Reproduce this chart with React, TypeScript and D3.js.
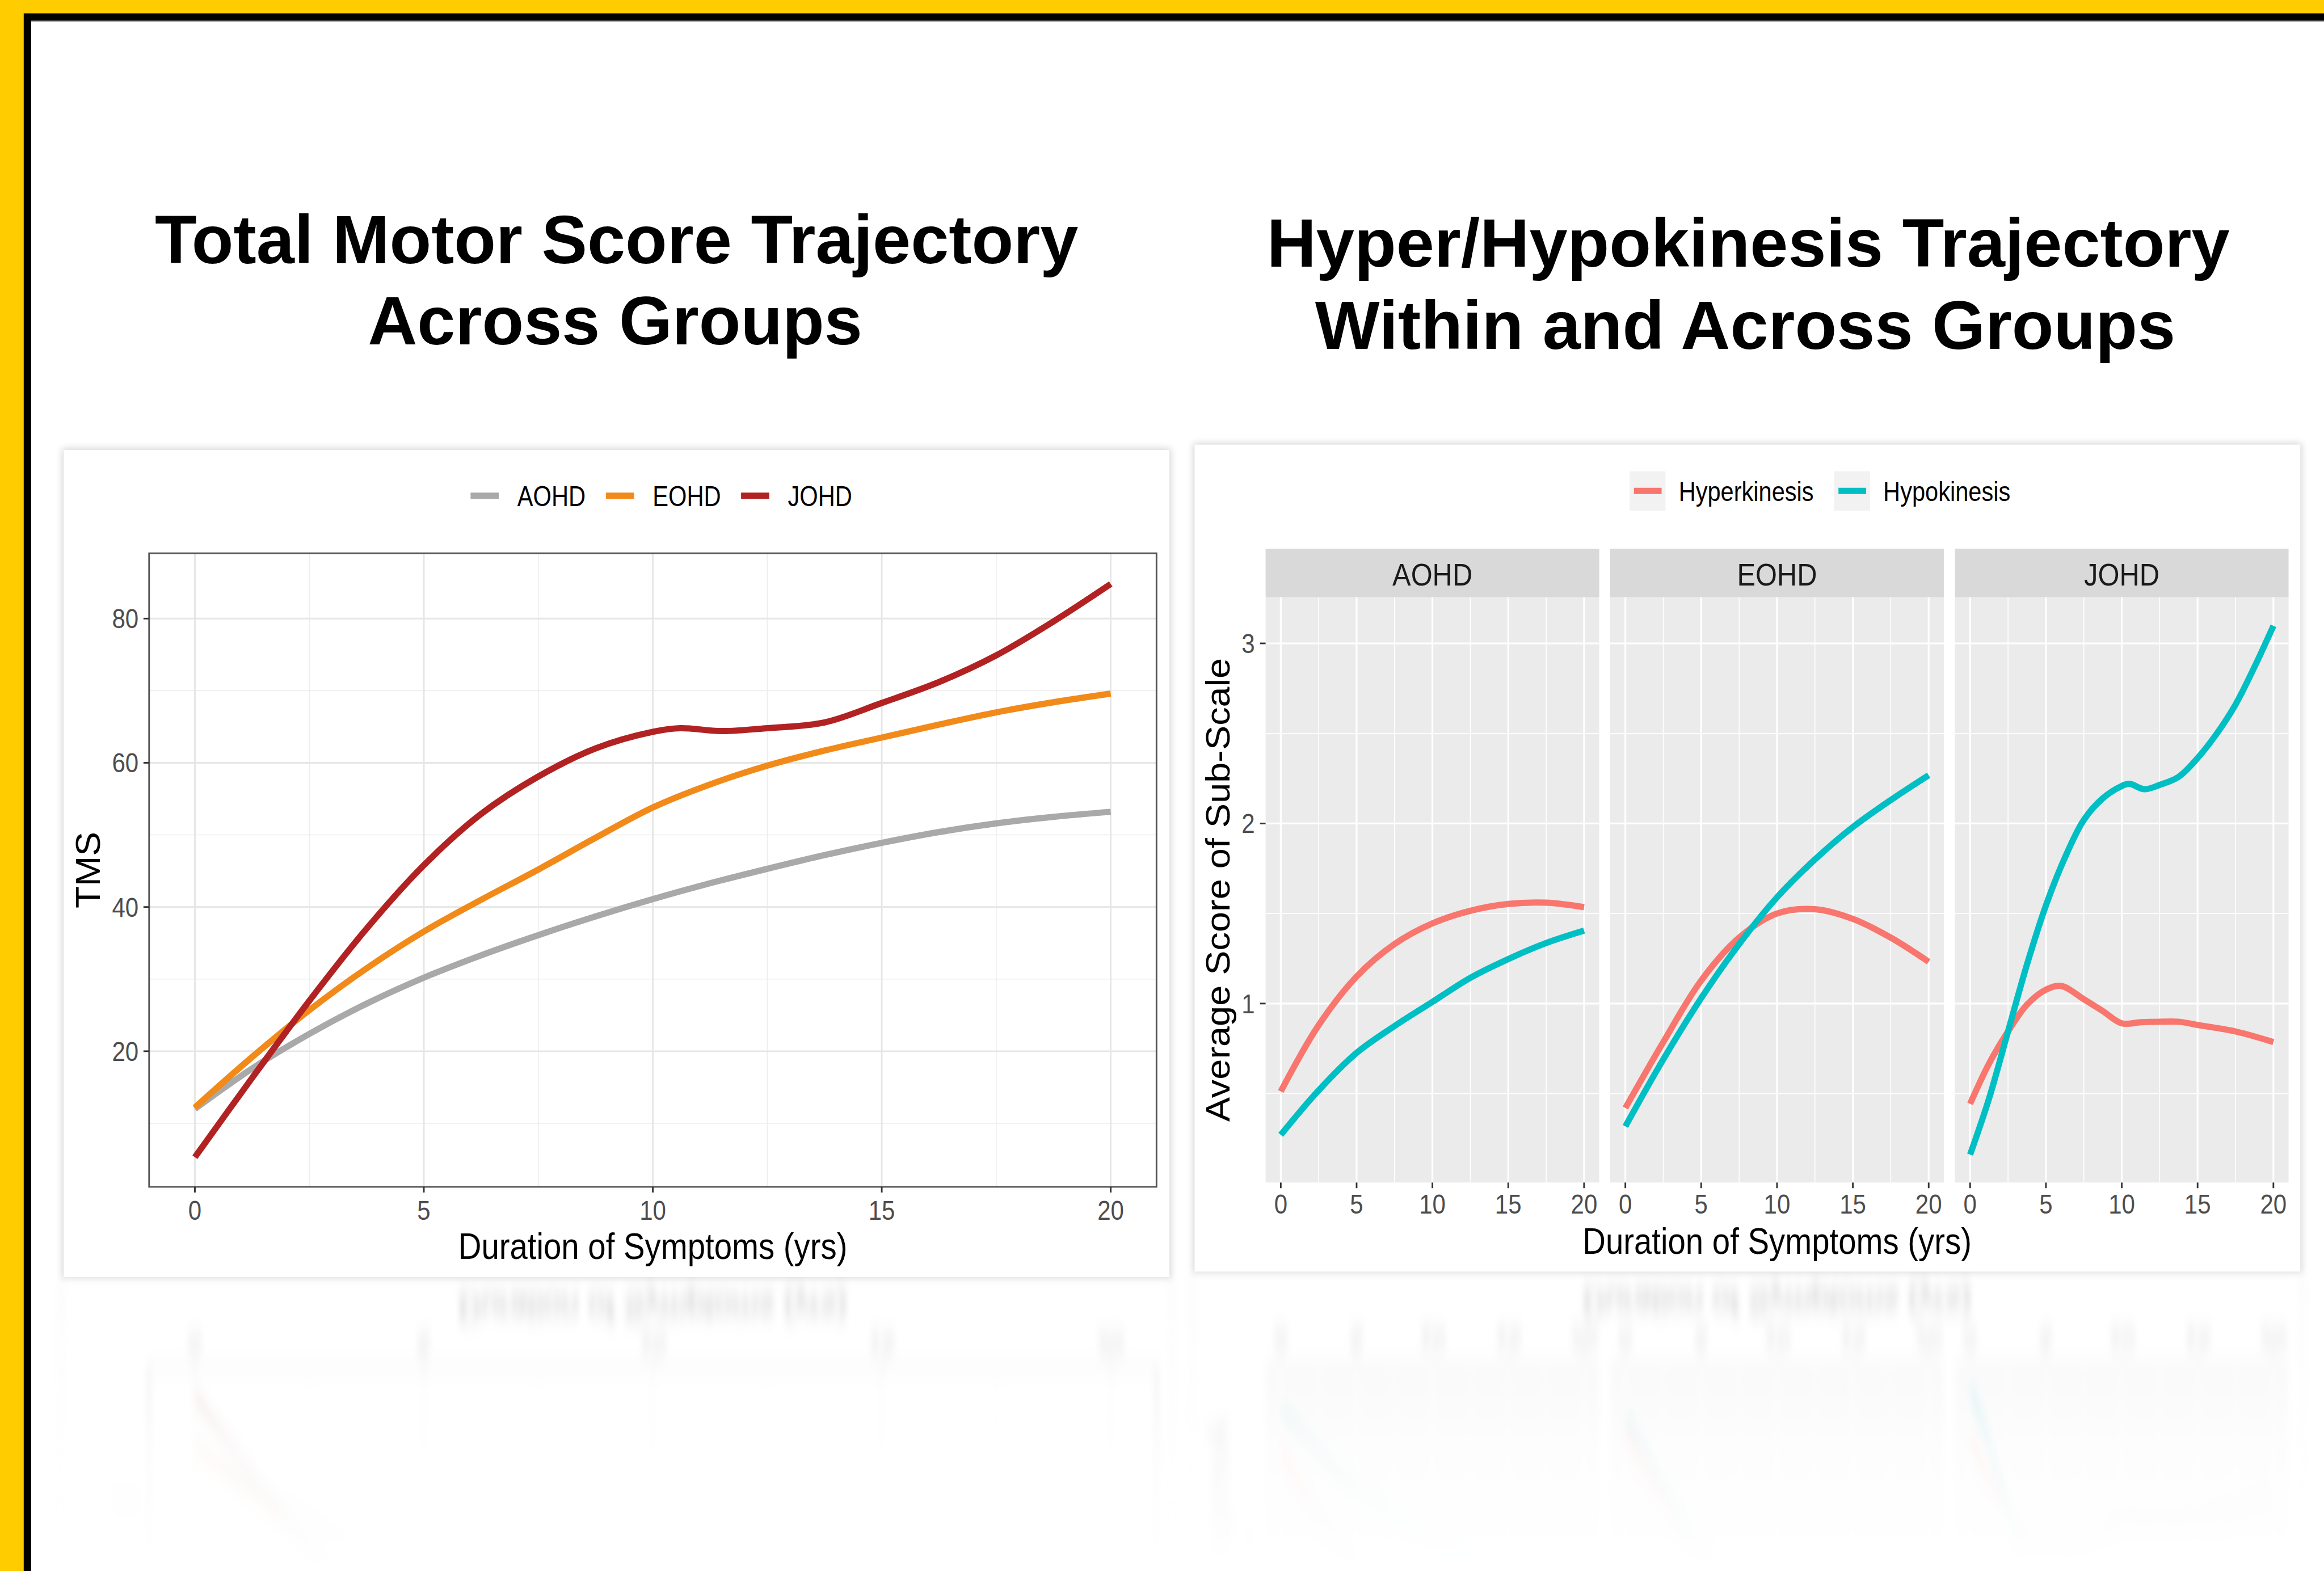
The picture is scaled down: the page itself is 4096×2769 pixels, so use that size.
import React from 'react';
import * as d3 from 'd3';

// ---------------- DATA ----------------
const tmsGroups = ['AOHD', 'EOHD', 'JOHD'];
const tmsColors = ['#A9A9A9', '#F28A1A', '#B22222'];

const tmsYearsStd = [0, 1.25, 2.5, 3.75, 5, 6.25, 7.5, 8.75, 10, 11.25, 12.5, 13.75, 15, 16.25, 17.5, 18.75, 20];
const tmsAOHD = [12.0, 17.6, 22.4, 26.6, 30.2, 33.3, 36.1, 38.7, 41.1, 43.3, 45.3, 47.2, 48.9, 50.4, 51.6, 52.5, 53.2];
const tmsEOHD = [12.2, 19.2, 25.7, 31.5, 36.6, 41.0, 45.2, 49.6, 53.8, 57.0, 59.6, 61.7, 63.5, 65.3, 67.0, 68.4, 69.6];
const tmsYearsJOHD = [0, 1.25, 2.5, 3.75, 5, 6.25, 7.5, 8.75, 10, 10.6, 11.5, 12.5, 13.75, 15, 16.25, 17.5, 18.75, 20];
const tmsJOHD = [5.3, 16.3, 27.0, 37.0, 45.8, 52.9, 58.1, 62.0, 64.3, 64.8, 64.4, 64.8, 65.6, 68.3, 71.2, 74.9, 79.6, 84.8];

const tmsXTicks = [0, 5, 10, 15, 20];
const tmsXMinor = [2.5, 7.5, 12.5, 17.5];
const tmsYTicks = [20, 40, 60, 80];
const tmsYMinor = [10, 30, 50, 70];

const subFacets = ['AOHD', 'EOHD', 'JOHD'];
const subSeries = ['Hyperkinesis', 'Hypokinesis'];
const subColors = ['#F8766D', '#00BFC4'];

const subYearsStd = [0, 2.5, 5, 7.5, 10, 12.5, 15, 17.5, 20];
const hyperAOHD = [0.512, 0.88, 1.15, 1.33, 1.445, 1.515, 1.553, 1.56, 1.535];
const hypoAOHD = [0.271, 0.518, 0.726, 0.875, 1.009, 1.143, 1.247, 1.336, 1.405];
const hyperEOHD = [0.42, 0.786, 1.128, 1.366, 1.5, 1.524, 1.47, 1.366, 1.232];
const hypoEOHD = [0.318, 0.69, 1.03, 1.33, 1.59, 1.8, 1.98, 2.13, 2.268];
const hyperYearsJOHD = [0, 1.25, 2.5, 3.75, 5, 6, 7.5, 8.75, 10, 11.25, 12.5, 13.75, 15, 17.5, 20];
const hyperJOHD = [0.443, 0.667, 0.845, 0.994, 1.077, 1.098, 1.024, 0.958, 0.89, 0.896, 0.899, 0.899, 0.881, 0.845, 0.786];
const hypoYearsJOHD = [0, 1.25, 2.5, 3.75, 5, 6.25, 7.5, 8.75, 10, 10.5, 11.5, 12.5, 13.75, 15, 16.25, 17.5, 18.75, 20];
const hypoJOHD = [0.161, 0.473, 0.845, 1.217, 1.545, 1.81, 2.02, 2.14, 2.208, 2.22, 2.19, 2.214, 2.259, 2.363, 2.497, 2.66, 2.869, 3.098];

const subXTicks = [0, 5, 10, 15, 20];
const subXMinor = [2.5, 7.5, 12.5, 17.5];
const subYTicks = [1, 2, 3];
const subYMinor = [0.5, 1.5, 2.5];

// ---------------- LAYOUT ----------------
const W = 1568;
const H = 1060;
const FONT = "'Liberation Sans', Arial, Helvetica, sans-serif";
const SX = 0.87;

function HText(props: any) {
  const { x, y, size, anchor = 'start', fill = '#000', sx = SX, weight = 'normal', children } = props;
  return (
    <text
      transform={`translate(${x},${y}) scale(${sx},1)`}
      fontFamily={FONT}
      fontSize={size}
      fontWeight={weight}
      textAnchor={anchor}
      fill={fill}
    >
      {children}
    </text>
  );
}

function VText(props: any) {
  const { x, y, size, fill = '#000', stretch = 1.05, children } = props;
  return (
    <text
      transform={`translate(${x},${y}) rotate(-90) scale(${stretch},1)`}
      fontFamily={FONT}
      fontSize={size}
      textAnchor="middle"
      fill={fill}
    >
      {children}
    </text>
  );
}

function makePath(xs: number[], ys: number[], sx: any, sy: any) {
  const pts: [number, number][] = xs.map((v, i) => [v, ys[i]]);
  return d3
    .line<[number, number]>()
    .x((d) => sx(d[0]))
    .y((d) => sy(d[1]))
    .curve(d3.curveCatmullRom.alpha(0.5))(pts) as string;
}

function TmsChart() {
  const x = d3.scaleLinear().domain([-1, 21]).range([100.6, 780.3]);
  const y = d3.scaleLinear().domain([1.19, 89.06]).range([800.8, 373.3]);
  const [xl, xr] = x.range();
  const [yb, yt] = y.range();
  const series = [
    { name: tmsGroups[0], xs: tmsYearsStd, ys: tmsAOHD, color: tmsColors[0] },
    { name: tmsGroups[1], xs: tmsYearsStd, ys: tmsEOHD, color: tmsColors[1] },
    { name: tmsGroups[2], xs: tmsYearsJOHD, ys: tmsJOHD, color: tmsColors[2] },
  ];
  const legendX = [317.5, 408.8, 500];
  return (
    <g>
      {/* legend */}
      {series.map((s, i) => (
        <g key={s.name}>
          <line x1={legendX[i]} x2={legendX[i] + 19} y1={334.5} y2={334.5} stroke={s.color} strokeWidth={4.3} />
          <HText x={legendX[i] + 31.5} y={341.3} size={19} sx={0.84} fill="#000">
            {s.name}
          </HText>
        </g>
      ))}
      {/* grid */}
      {tmsXMinor.map((v) => (
        <line key={'xm' + v} x1={x(v)} x2={x(v)} y1={yt} y2={yb} stroke="#EDEDED" strokeWidth={0.6} />
      ))}
      {tmsYMinor.map((v) => (
        <line key={'ym' + v} x1={xl} x2={xr} y1={y(v)} y2={y(v)} stroke="#EDEDED" strokeWidth={0.6} />
      ))}
      {tmsXTicks.map((v) => (
        <line key={'xM' + v} x1={x(v)} x2={x(v)} y1={yt} y2={yb} stroke="#E6E6E6" strokeWidth={1.1} />
      ))}
      {tmsYTicks.map((v) => (
        <line key={'yM' + v} x1={xl} x2={xr} y1={y(v)} y2={y(v)} stroke="#E6E6E6" strokeWidth={1.1} />
      ))}
      {/* lines */}
      {series.map((s) => (
        <path key={s.name} d={makePath(s.xs, s.ys, x, y)} fill="none" stroke={s.color} strokeWidth={4.2} strokeLinecap="butt" />
      ))}
      {/* border */}
      <rect x={xl} y={yt} width={xr - xl} height={yb - yt} fill="none" stroke="#555" strokeWidth={1.1} />
      {/* ticks */}
      {tmsXTicks.map((v) => (
        <g key={'xt' + v}>
          <line x1={x(v)} x2={x(v)} y1={yb} y2={yb + 3.8} stroke="#333" strokeWidth={1.1} />
          <HText x={x(v)} y={822.9} size={18.5} anchor="middle" fill="#4D4D4D">
            {v}
          </HText>
        </g>
      ))}
      {tmsYTicks.map((v) => (
        <g key={'yt' + v}>
          <line x1={xl - 3.8} x2={xl} y1={y(v)} y2={y(v)} stroke="#333" strokeWidth={1.1} />
          <HText x={93.5} y={y(v) + 6.5} size={18.5} anchor="end" fill="#4D4D4D">
            {v}
          </HText>
        </g>
      ))}
      <HText x={(xl + xr) / 2} y={849.5} size={24.8} sx={0.87} anchor="middle" fill="#000">
        Duration of Symptoms (yrs)
      </HText>
      <VText x={67.5} y={(yt + yb) / 2} size={23.3} stretch={1.05}>
        TMS
      </VText>
    </g>
  );
}

function SubChart() {
  const facetLefts = [853.9, 1086.4, 1319];
  const fw = 225.1;
  const y = d3.scaleLinear().domain([0.006, 3.256]).range([797.9, 403]);
  const [yb, yt] = y.range();
  const facetData = [
    [
      { xs: subYearsStd, ys: hyperAOHD },
      { xs: subYearsStd, ys: hypoAOHD },
    ],
    [
      { xs: subYearsStd, ys: hyperEOHD },
      { xs: subYearsStd, ys: hypoEOHD },
    ],
    [
      { xs: hyperYearsJOHD, ys: hyperJOHD },
      { xs: hypoYearsJOHD, ys: hypoJOHD },
    ],
  ];
  const legendBoxes = [1099.5, 1237.5];
  return (
    <g>
      {/* legend */}
      {subSeries.map((s, i) => (
        <g key={s}>
          <rect x={legendBoxes[i]} y={318} width={24.2} height={26.5} fill="#F2F2F2" />
          <line x1={legendBoxes[i] + 2.9} x2={legendBoxes[i] + 21.6} y1={331.2} y2={331.2} stroke={subColors[i]} strokeWidth={4.2} />
          <HText x={legendBoxes[i] + 33.1} y={338} size={18.3} fill="#000">
            {s}
          </HText>
        </g>
      ))}
      {subFacets.map((f, fi) => {
        const left = facetLefts[fi];
        const x = d3.scaleLinear().domain([-1, 21]).range([left, left + fw]);
        return (
          <g key={f}>
            <rect x={left} y={370.3} width={fw} height={yt - 370.3} fill="#D9D9D9" />
            <HText x={left + fw / 2} y={395.1} size={21.5} anchor="middle" fill="#1A1A1A">
              {f}
            </HText>
            <rect x={left} y={yt} width={fw} height={yb - yt} fill="#EBEBEB" />
            {subXMinor.map((v) => (
              <line key={'xm' + v} x1={x(v)} x2={x(v)} y1={yt} y2={yb} stroke="#fff" strokeWidth={0.6} />
            ))}
            {subYMinor.map((v) => (
              <line key={'ym' + v} x1={left} x2={left + fw} y1={y(v)} y2={y(v)} stroke="#fff" strokeWidth={0.6} />
            ))}
            {subXTicks.map((v) => (
              <line key={'xM' + v} x1={x(v)} x2={x(v)} y1={yt} y2={yb} stroke="#fff" strokeWidth={1.2} />
            ))}
            {subYTicks.map((v) => (
              <line key={'yM' + v} x1={left} x2={left + fw} y1={y(v)} y2={y(v)} stroke="#fff" strokeWidth={1.2} />
            ))}
            {facetData[fi].map((s, si) => (
              <path key={si} d={makePath(s.xs, s.ys, x, y)} fill="none" stroke={subColors[si]} strokeWidth={4.2} strokeLinecap="butt" />
            ))}
            {subXTicks.map((v) => (
              <g key={'xt' + v}>
                <line x1={x(v)} x2={x(v)} y1={yb} y2={yb + 3.8} stroke="#333" strokeWidth={1.1} />
                <HText x={x(v)} y={819} size={18.5} anchor="middle" fill="#4D4D4D">
                  {v}
                </HText>
              </g>
            ))}
          </g>
        );
      })}
      {subYTicks.map((v) => (
        <g key={'yt' + v}>
          <line x1={facetLefts[0] - 3.8} x2={facetLefts[0]} y1={y(v)} y2={y(v)} stroke="#333" strokeWidth={1.1} />
          <HText x={846.6} y={y(v) + 6.4} size={18.5} anchor="end" fill="#4D4D4D">
            {v}
          </HText>
        </g>
      ))}
      <HText x={(facetLefts[0] + facetLefts[2] + fw) / 2} y={846} size={24.8} anchor="middle" fill="#000">
        Duration of Symptoms (yrs)
      </HText>
      <VText x={829.5} y={(yt + yb) / 2} size={23} stretch={1.08}>
        Average Score of Sub-Scale
      </VText>
    </g>
  );
}

export default function App() {
  const leftCard = { x: 43, y: 303.6, w: 746, h: 558.1 };
  const rightCard = { x: 806, y: 300, w: 746, h: 558 };
  return (
    <svg
      width={4096}
      height={2769}
      viewBox={`0 0 ${W} ${H}`}
      preserveAspectRatio="none"
      style={{ position: 'absolute', left: 0, top: 0, display: 'block' }}
      xmlns="http://www.w3.org/2000/svg"
    >
      <defs>
        <filter id="cardShadow" x="-10%" y="-10%" width="120%" height="120%">
          <feGaussianBlur stdDeviation="2.5" />
        </filter>
        <filter id="reflBlur" filterUnits="userSpaceOnUse" x="0" y="820" width={W} height="260">
          <feGaussianBlur stdDeviation="2 7" />
        </filter>
        <linearGradient id="reflGradL" gradientUnits="userSpaceOnUse" x1="0" y1="861" x2="0" y2="1060">
          <stop offset="0" stopColor="#fff" stopOpacity="0.5" />
          <stop offset="0.6" stopColor="#fff" stopOpacity="0.1" />
          <stop offset="1" stopColor="#fff" stopOpacity="0" />
        </linearGradient>
        <linearGradient id="reflGradR" gradientUnits="userSpaceOnUse" x1="0" y1="858" x2="0" y2="1060">
          <stop offset="0" stopColor="#fff" stopOpacity="0.5" />
          <stop offset="0.6" stopColor="#fff" stopOpacity="0.1" />
          <stop offset="1" stopColor="#fff" stopOpacity="0" />
        </linearGradient>
        <mask id="reflMaskL" maskUnits="userSpaceOnUse" x="0" y="0" width={W} height={H}>
          <rect x={0} y={861.7} width={797.5} height={H - 861.7} fill="url(#reflGradL)" />
        </mask>
        <mask id="reflMaskR" maskUnits="userSpaceOnUse" x="0" y="0" width={W} height={H}>
          <rect x={797.5} y={858} width={W - 797.5} height={H - 858} fill="url(#reflGradR)" />
        </mask>
      </defs>

      {/* frame */}
      <rect x={0} y={0} width={W} height={H} fill="#FFCC00" />
      <rect x={16} y={9} width={W - 16} height={H - 9} fill="#000" />
      <rect x={21} y={14} width={W - 21} height={H - 14} fill="#FFFFFF" />
      <line x1={21} x2={W} y1={14.2} y2={14.2} stroke="#555" strokeWidth={0.5} />

      {/* titles */}
      <text x={416} y={177.5} fontFamily={FONT} fontSize={46.2} fontWeight="bold" textAnchor="middle" fill="#000">
        Total Motor Score Trajectory
      </text>
      <text x={415} y={232.2} fontFamily={FONT} fontSize={46.2} fontWeight="bold" textAnchor="middle" fill="#000">
        Across Groups
      </text>
      <text x={1179.5} y={180.1} fontFamily={FONT} fontSize={46.2} fontWeight="bold" textAnchor="middle" fill="#000">
        Hyper/Hypokinesis Trajectory
      </text>
      <text x={1177.5} y={235.3} fontFamily={FONT} fontSize={46.2} fontWeight="bold" textAnchor="middle" fill="#000">
        Within and Across Groups
      </text>

      {/* left card */}
      <g id="leftCardG">
        <rect x={leftCard.x - 1} y={leftCard.y - 1} width={leftCard.w + 2} height={leftCard.h + 2} fill="#000" opacity={0.16} filter="url(#cardShadow)" />
        <rect x={leftCard.x} y={leftCard.y} width={leftCard.w} height={leftCard.h} fill="#fff" />
        <TmsChart />
      </g>

      {/* right card */}
      <g id="rightCardG">
        <rect x={rightCard.x - 1} y={rightCard.y - 1} width={rightCard.w + 2} height={rightCard.h + 2} fill="#000" opacity={0.16} filter="url(#cardShadow)" />
        <rect x={rightCard.x} y={rightCard.y} width={rightCard.w} height={rightCard.h} fill="#fff" />
        <SubChart />
      </g>

      {/* reflections */}
      <g mask="url(#reflMaskL)">
        <g filter="url(#reflBlur)">
          <use href="#leftCardG" transform={`translate(0,${2 * (leftCard.y + leftCard.h)}) scale(1,-1)`} />
        </g>
      </g>
      <g mask="url(#reflMaskR)">
        <g filter="url(#reflBlur)">
          <use href="#rightCardG" transform={`translate(0,${2 * (rightCard.y + rightCard.h)}) scale(1,-1)`} />
        </g>
      </g>
    </svg>
  );
}
